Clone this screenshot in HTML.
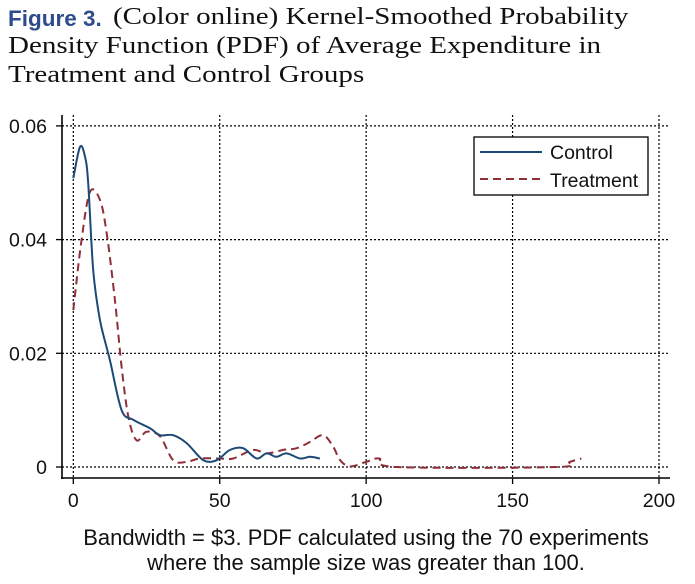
<!DOCTYPE html>
<html><head><meta charset="utf-8"><style>
body{margin:0;background:#fff;width:695px;height:584px;overflow:hidden;position:relative}
.t{position:absolute;font-family:"Liberation Serif",serif;font-size:24px;color:#111;white-space:nowrap;line-height:29px;transform:scaleX(1.21);transform-origin:0 0}
.cap{position:absolute;left:0;width:732px;text-align:center;font-family:"Liberation Sans",sans-serif;font-size:22px;color:#111;line-height:25px}
</style></head><body>
<div>
<div style="position:absolute;left:8px;top:4px;font-family:'Liberation Sans',sans-serif;font-weight:bold;color:#2e4c8c;font-size:22.5px;line-height:29px">Figure 3.</div>
<div class="t" style="left:113px;top:3px">(Color online) Kernel-Smoothed Probability</div>
<div class="t" style="left:8px;top:32px">Density Function (PDF) of Average Expenditure in</div>
<div class="t" style="left:8px;top:61px">Treatment and Control Groups</div>
</div>
<svg id="chart" width="695" height="584" style="position:absolute;left:0;top:0" font-family="Liberation Sans, sans-serif"></svg>
<div class="cap" style="top:525px">Bandwidth = $3. PDF calculated using the 70 experiments<br>where the sample size was greater than 100.</div>
<script>
const xTicks=[0,50,100,150,200];
const yTicks=[0,0.02,0.04,0.06];
const yTickLabels=["0","0.02","0.04","0.06"];
const controlX=[0,2.3,4,5.1,6.8,9.1,12.5,16.5,20.5,26.2,29.6,34.1,38.7,44.4,49,53.5,58,62.6,66,69.4,72.8,77.4,80.8,84.2];
const controlY=[0.0508,0.0563,0.0546,0.0499,0.0346,0.0259,0.0188,0.0100,0.0083,0.0068,0.0056,0.0056,0.0042,0.0012,0.0012,0.0030,0.0033,0.0015,0.0024,0.0018,0.0024,0.0015,0.0018,0.0015];
const treatX=[0,2.8,5.7,9.1,11.4,14.2,16.5,18.8,21.6,25,29.6,34.1,38.7,43.2,50,54.6,61.4,66,71.7,76.3,80.8,85.3,88.7,91.1,94.5,100,104.5,110.4,165,169.5,173.5];
const treatY=[0.0276,0.0399,0.0484,0.0470,0.0411,0.0294,0.0176,0.0088,0.0047,0.0062,0.0054,0.0012,0.0009,0.0015,0.0015,0.0015,0.0030,0.0024,0.0030,0.0033,0.0044,0.0056,0.0036,0.0012,0.0001,0.0009,0.0015,0,0,0.0009,0.0015];
const X=v=>73.3+v*2.9285;
const Y=v=>467-v*5685;
const svg=document.getElementById('chart');
const NS='http://www.w3.org/2000/svg';
function mk(tag,attrs){const e=document.createElementNS(NS,tag);for(const k in attrs)e.setAttribute(k,attrs[k]);svg.appendChild(e);return e;}
yTicks.forEach((v,i)=>{
  const g=mk('line',{x1:62,x2:670,y1:Y(v),y2:Y(v),stroke:'#000','stroke-width':1.2,'stroke-dasharray':'2,2'});
  
  
  const tk=mk('line',{x1:56,x2:62,y1:Y(v),y2:Y(v),stroke:'#000','stroke-width':1.3});
  
  
  const t=mk('text',{x:47,y:Y(v)+7,'text-anchor':'end','font-size':19.5,fill:'#111'});
  t.textContent=yTickLabels[i];
  
  
});
xTicks.forEach(v=>{
  const g=mk('line',{x1:X(v),x2:X(v),y1:115,y2:478,stroke:'#000','stroke-width':1.2,'stroke-dasharray':'2,2'});
  
  
  const tk=mk('line',{x1:X(v),x2:X(v),y1:478,y2:484,stroke:'#000','stroke-width':1.3});
  
  
  const t=mk('text',{x:X(v),y:507,'text-anchor':'middle','font-size':19.5,fill:'#111'});
  t.textContent=String(v);
  
  
});
const ya=mk('line',{x1:62,x2:62,y1:115,y2:479,stroke:'#000','stroke-width':1.6});


const xa=mk('line',{x1:61,x2:670,y1:478,y2:478,stroke:'#000','stroke-width':1.6});


function path(xs,ys){
  const p=xs.map((x,i)=>[X(x),Y(ys[i])]);
  let d='M'+p[0][0].toFixed(1)+','+p[0][1].toFixed(1);
  for(let i=0;i<p.length-1;i++){
    const p0=p[Math.max(i-1,0)],p1=p[i],p2=p[i+1],p3=p[Math.min(i+2,p.length-1)];
    const c1=[p1[0]+(p2[0]-p0[0])/6,p1[1]+(p2[1]-p0[1])/6];
    const c2=[p2[0]-(p3[0]-p1[0])/6,p2[1]-(p3[1]-p1[1])/6];
    d+=' C'+c1.map(n=>n.toFixed(1)).join(',')+' '+c2.map(n=>n.toFixed(1)).join(',')+' '+p2[0].toFixed(1)+','+p2[1].toFixed(1);
  }
  return d;
}
const tr=mk('path',{d:path(treatX,treatY),fill:'none',stroke:'#8e2f38','stroke-width':2,'stroke-dasharray':'8,5','stroke-linejoin':'round'});


const co=mk('path',{d:path(controlX,controlY),fill:'none',stroke:'#1c4a78','stroke-width':2,'stroke-linejoin':'round'});


const lg=mk('rect',{x:474,y:137,width:174,height:58,fill:'#fff',stroke:'#000','stroke-width':1.3});


const l1=mk('line',{x1:480,x2:542,y1:152,y2:152,stroke:'#1c4a78','stroke-width':2});


const l2=mk('line',{x1:480,x2:542,y1:179,y2:179,stroke:'#8e2f38','stroke-width':2,'stroke-dasharray':'8,5'});


const t1=mk('text',{x:550,y:159,'font-size':19.5,fill:'#111'});t1.textContent='Control';


const t2=mk('text',{x:550,y:187,'font-size':19.5,fill:'#111'});t2.textContent='Treatment';


</script>
</body></html>
